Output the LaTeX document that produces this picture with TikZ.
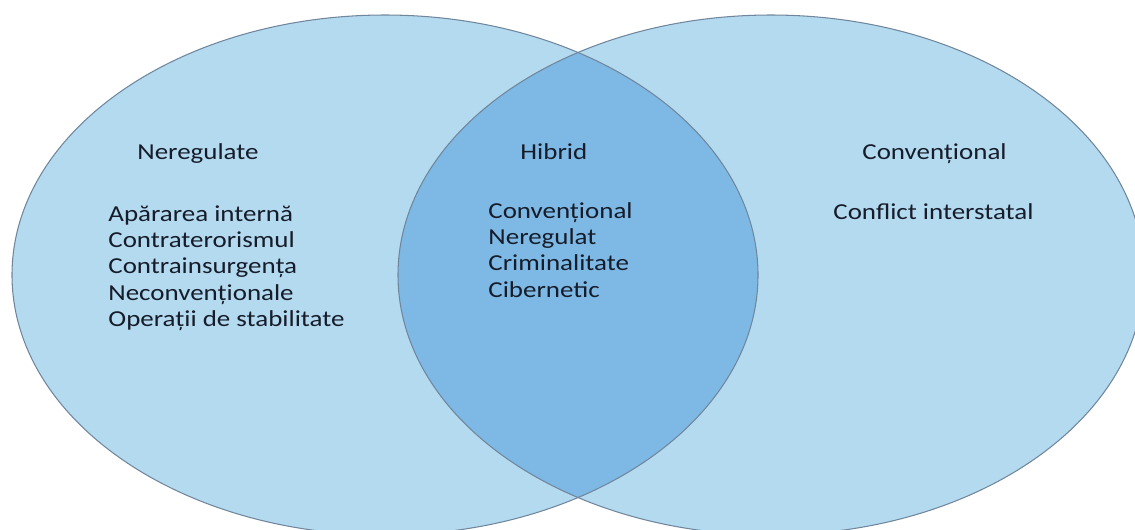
\documentclass[tikz,border=0pt]{standalone}
\usepackage{fontspec}
\setmainfont{Carlito}
\usetikzlibrary{positioning}
\definecolor{vennlight}{RGB}{180,218,240}
\definecolor{venndark}{RGB}{125,185,228}
\definecolor{vennedge}{RGB}{112,134,156}
\definecolor{venntext}{RGB}{22,28,42}
\tikzset{
 ring/.style={draw=vennedge, line width=.6pt},
 title/.style={text=venntext, font=\fontsize{13}{15}\selectfont, inner sep=0, anchor=base west, xscale=1.18, transform shape},
 items/.style={text=venntext, font=\fontsize{13}{15}\selectfont, align=left, inner sep=0, anchor=north west, xscale=1.18, transform shape}
}

\begin{document}
\begin{tikzpicture} [x=.02cm, y=-.02cm]
\useasboundingbox (0,0) rectangle (1135,529);
\clip (0,0) rectangle (1135,529);
\coordinate (L) at (385,275);
\coordinate (R) at (771,275);
% the two sets and their overlap
\fill[vennlight] (L) ellipse (373 and 260);
\fill[vennlight] (R) ellipse (373 and 260);
\begin{scope}
 \clip (L) ellipse (373 and 260);
 \fill[venndark] (R) ellipse (373 and 260);
\end{scope}
\draw[ring] (L) ellipse (373 and 260);
\draw[ring] (R) ellipse (373 and 260);
% labels
\node[title] (neregulate) at (137,159) {Neregulate};
\node[title] (hibrid) at (520,159) {Hibrid};
\node[title] (conventional) at (862,159) {Convențional};
\node[items] (listL) at (108,205) {Apărarea internă\\Contraterorismul\\Contrainsurgența\\Neconvenționale\\Operații de stabilitate};
\node[items] (listM) at (488,202) {Convențional\\Neregulat\\Criminalitate\\Cibernetic};
\node[items] (listR) at (833,203) {Conflict interstatal};
\end{tikzpicture}
\end{document}
